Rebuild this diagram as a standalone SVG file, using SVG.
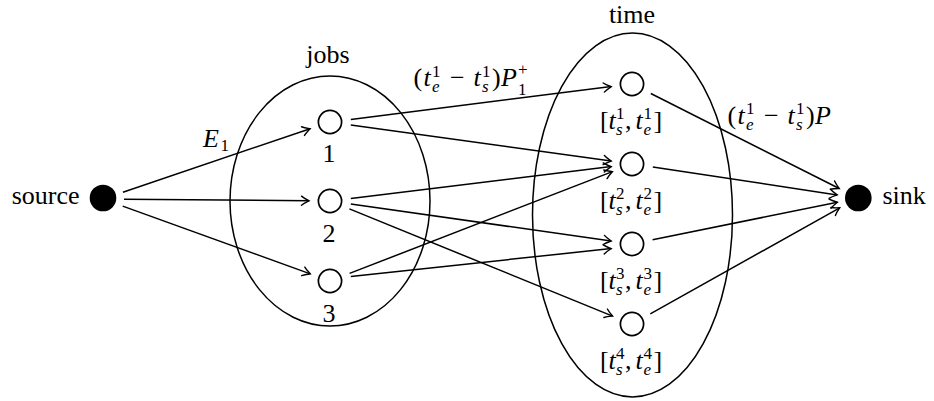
<svg xmlns="http://www.w3.org/2000/svg" width="934" height="401" viewBox="0 0 934 401" font-family="'Liberation Serif', 'Times New Roman', Times, 'DejaVu Serif', serif">
<style>
text{font-family:'Liberation Serif','Times New Roman',Times,'DejaVu Serif',serif}
.t{font-size:26px;fill:#000}
.i{font-style:italic}
.s{font-size:17px}
.m{text-anchor:middle}
.ring{fill:#fff;stroke:#000;stroke-width:1.7}
.dot{fill:#000;stroke:none}
.ell{fill:none;stroke:#000;stroke-width:1.5}
.e{stroke:#000;stroke-width:1.5;fill:none;marker-end:url(#arr)}
</style>
<defs>
<marker id="arr" markerUnits="userSpaceOnUse" orient="auto" overflow="visible" refX="0" refY="0" markerWidth="12" markerHeight="12">
<path d="M-7.5,-4.6 C-5,-2.5 -1.5,-0.8 0,0 C-1.5,0.8 -5,2.5 -7.5,4.6" fill="none" stroke="#000" stroke-width="1.4" stroke-linecap="round"/>
</marker>
</defs>
<rect width="934" height="401" fill="#fff"/>
<g id="jobs">
<ellipse class="ell" cx="330" cy="201" rx="100" ry="125"/>
<text class="t m" x="328" y="63">jobs</text>
</g>
<g id="time">
<ellipse class="ell" cx="632.5" cy="215" rx="100" ry="182"/>
<text class="t m" x="632" y="23">time</text>
</g>
<g id="connectors">
<line class="e" x1="122.9" y1="192.3" x2="310.1" y2="128.7"/>
<line class="e" x1="124" y1="199.2" x2="309" y2="200.8"/>
<line class="e" x1="122.7" y1="206.1" x2="310.3" y2="273.9"/>
<line class="e" x1="350.8" y1="119.4" x2="611.2" y2="86.6"/>
<line class="e" x1="350.8" y1="124.9" x2="611.2" y2="161.1"/>
<line class="e" x1="350.8" y1="198.4" x2="611.2" y2="166.6"/>
<line class="e" x1="350.8" y1="204" x2="611.2" y2="241"/>
<line class="e" x1="349.4" y1="208.9" x2="612.6" y2="316.1"/>
<line class="e" x1="349.6" y1="273.4" x2="612.4" y2="171.6"/>
<line class="e" x1="350.8" y1="276.4" x2="611.2" y2="248.6"/>
<line class="e" x1="650.8" y1="93.5" x2="839.2" y2="188.5"/>
<line class="e" x1="652.8" y1="167.1" x2="837.2" y2="194.9"/>
<line class="e" x1="652.6" y1="239.8" x2="837.4" y2="202.2"/>
<line class="e" x1="650.3" y1="313.8" x2="839.7" y2="207.8"/>
<text class="t"><tspan class="i" x="203" y="147">E</tspan><tspan class="s" x="220.5" y="151">1</tspan></text>
<text class="t"><tspan x="413.5" y="86">(</tspan><tspan class="i" x="423.5" y="86">t</tspan><tspan class="s" x="432" y="76.5">1</tspan><tspan class="s i" x="432" y="92">e</tspan><tspan x="450" y="86">−</tspan><tspan class="i" x="473.5" y="86">t</tspan><tspan class="s" x="482" y="76.5">1</tspan><tspan class="s i" x="482" y="92">s</tspan><tspan x="492" y="86">)</tspan><tspan class="i" x="501" y="86">P</tspan><tspan class="s" x="518" y="75">+</tspan><tspan class="s" x="518" y="95">1</tspan></text>
<text class="t"><tspan x="727.5" y="123.5">(</tspan><tspan class="i" x="737.5" y="123.5">t</tspan><tspan class="s" x="746" y="114">1</tspan><tspan class="s i" x="746" y="129.5">e</tspan><tspan x="764" y="123.5">−</tspan><tspan class="i" x="787.5" y="123.5">t</tspan><tspan class="s" x="796" y="114">1</tspan><tspan class="s i" x="796" y="129.5">s</tspan><tspan x="806" y="123.5">)</tspan><tspan class="i" x="815" y="123.5">P</tspan></text>
</g>
<g id="source">
<circle class="dot" cx="103" cy="198" r="13.3"/>
<text class="t" x="79.5" y="204" text-anchor="end">source</text>
</g>
<g id="sink">
<circle class="dot" cx="858.3" cy="198" r="13.3"/>
<text class="t" x="882.5" y="204">sink</text>
</g>
<g id="job1">
<circle class="ring" cx="330" cy="122" r="11.6"/>
<text class="t m" x="329" y="162">1</text>
</g>
<g id="job2">
<circle class="ring" cx="330" cy="201" r="11.6"/>
<text class="t m" x="329" y="242">2</text>
</g>
<g id="job3">
<circle class="ring" cx="330" cy="281" r="11.6"/>
<text class="t m" x="329" y="322">3</text>
</g>
<g id="time1">
<circle class="ring" cx="632" cy="84" r="11.6"/>
<text class="t"><tspan x="600" y="128.5">[</tspan><tspan class="i" x="608.5" y="128.5">t</tspan><tspan class="s" x="616" y="119">1</tspan><tspan class="s i" x="616" y="134.5">s</tspan><tspan x="625" y="128.5">,</tspan><tspan class="i" x="635.5" y="128.5">t</tspan><tspan class="s" x="643.5" y="119">1</tspan><tspan class="s i" x="643.5" y="134.5">e</tspan><tspan x="653.5" y="128.5">]</tspan></text>
</g>
<g id="time2">
<circle class="ring" cx="632" cy="164" r="11.6"/>
<text class="t"><tspan x="600" y="208.5">[</tspan><tspan class="i" x="608.5" y="208.5">t</tspan><tspan class="s" x="616" y="199">2</tspan><tspan class="s i" x="616" y="214.5">s</tspan><tspan x="625" y="208.5">,</tspan><tspan class="i" x="635.5" y="208.5">t</tspan><tspan class="s" x="643.5" y="199">2</tspan><tspan class="s i" x="643.5" y="214.5">e</tspan><tspan x="653.5" y="208.5">]</tspan></text>
</g>
<g id="time3">
<circle class="ring" cx="632" cy="244" r="11.6"/>
<text class="t"><tspan x="600" y="288.5">[</tspan><tspan class="i" x="608.5" y="288.5">t</tspan><tspan class="s" x="616" y="279">3</tspan><tspan class="s i" x="616" y="294.5">s</tspan><tspan x="625" y="288.5">,</tspan><tspan class="i" x="635.5" y="288.5">t</tspan><tspan class="s" x="643.5" y="279">3</tspan><tspan class="s i" x="643.5" y="294.5">e</tspan><tspan x="653.5" y="288.5">]</tspan></text>
</g>
<g id="time4">
<circle class="ring" cx="632" cy="324" r="11.6"/>
<text class="t"><tspan x="600" y="368.5">[</tspan><tspan class="i" x="608.5" y="368.5">t</tspan><tspan class="s" x="616" y="359">4</tspan><tspan class="s i" x="616" y="374.5">s</tspan><tspan x="625" y="368.5">,</tspan><tspan class="i" x="635.5" y="368.5">t</tspan><tspan class="s" x="643.5" y="359">4</tspan><tspan class="s i" x="643.5" y="374.5">e</tspan><tspan x="653.5" y="368.5">]</tspan></text>
</g>
</svg>
